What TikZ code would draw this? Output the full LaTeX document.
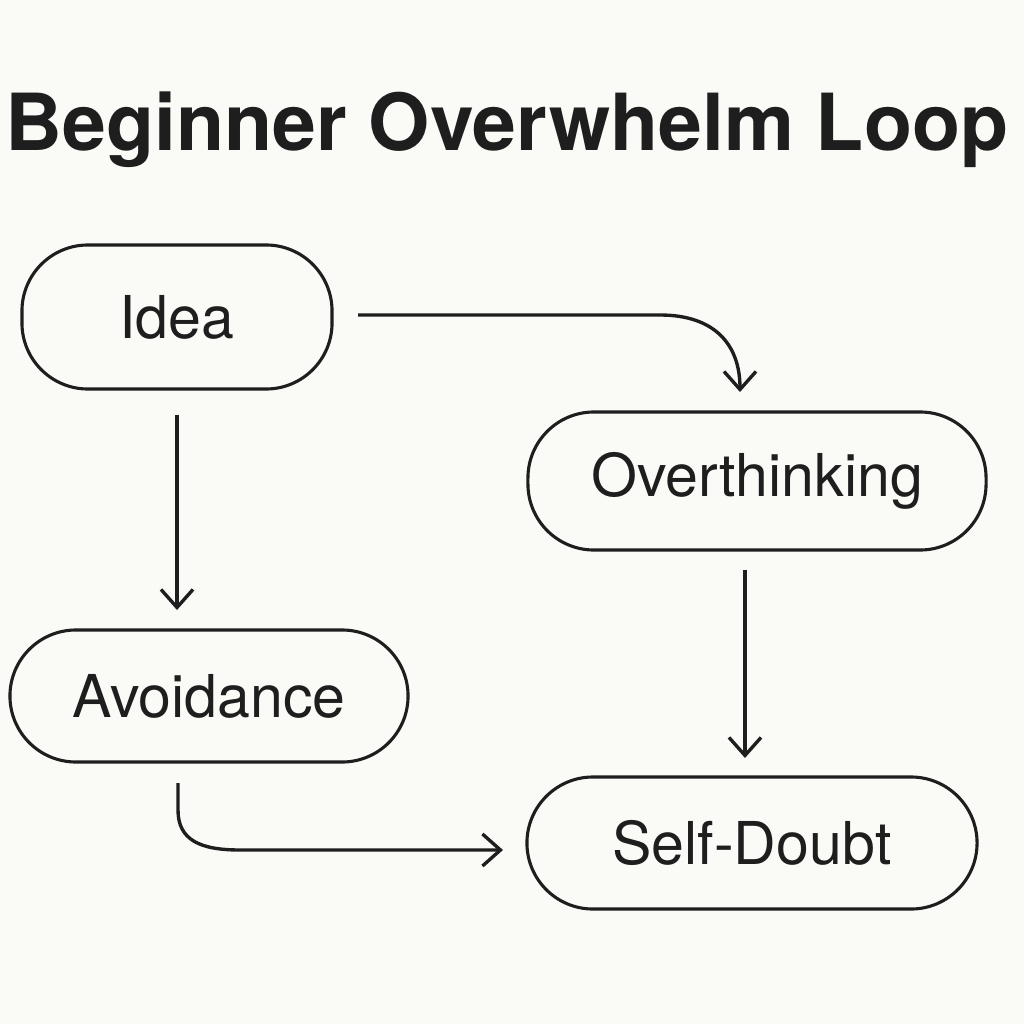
\documentclass[tikz,border=0pt]{standalone}
\usepackage{fontspec}
\setmainfont{TeX Gyre Heros}
\usetikzlibrary{arrows.meta,positioning}
\definecolor{bgpaper}{HTML}{FAFAF7}
\definecolor{inkline}{HTML}{1E1E1E}
\begin{document}
\begin{tikzpicture}[x=0.025cm,y=-0.025cm,
  pill/.style={draw=inkline, line width=2.2pt, rounded corners=1.65cm,
       inner sep=0pt, font=\fontsize{42}{46}\selectfont, text=inkline},
  flow/.style={draw=inkline, line width=2.4pt,
       -{Straight Barb[length=0.45cm,width=0.8cm,line width=2.4pt]}}]

\fill[bgpaper] (0,0) rectangle (1024,1024);

\node[font=\bfseries\fontsize{56}{62}\selectfont, text=inkline] (title) at (507,130) {Beginner Overwhelm Loop};

\node[pill, minimum width=7.75cm, minimum height=3.6cm] (idea) at (177,317) {Idea};
\node[pill, minimum width=11.45cm, minimum height=3.45cm] (over) at (757,481) {Overthinking};
\node[pill, minimum width=9.95cm, minimum height=3.3cm] (avoid) at (209,696) {Avoidance};
\node[pill, minimum width=11.25cm, minimum height=3.3cm] (doubt) at (752,843) {Self-Doubt};

\coordinate (ideaout) at (358,315);
\coordinate (overin) at (740,392);
\coordinate (ideadown) at (177,415);
\coordinate (avoidin) at (177,610);
\coordinate (overdown) at (745,570);
\coordinate (doubtin) at (745,758);
\coordinate (avoidout) at (178,783);
\coordinate (doubtleft) at (503,850);

\draw[flow] (ideaout) -- (660,315) .. controls (715,315) and (740,345) .. (overin);
\draw[flow] (ideadown) -- (avoidin);
\draw[flow] (overdown) -- (doubtin);
\draw[flow] (avoidout) -- (178,810) .. controls (178,840) and (200,850) .. (240,850) -- (doubtleft);
\end{tikzpicture}
\end{document}
